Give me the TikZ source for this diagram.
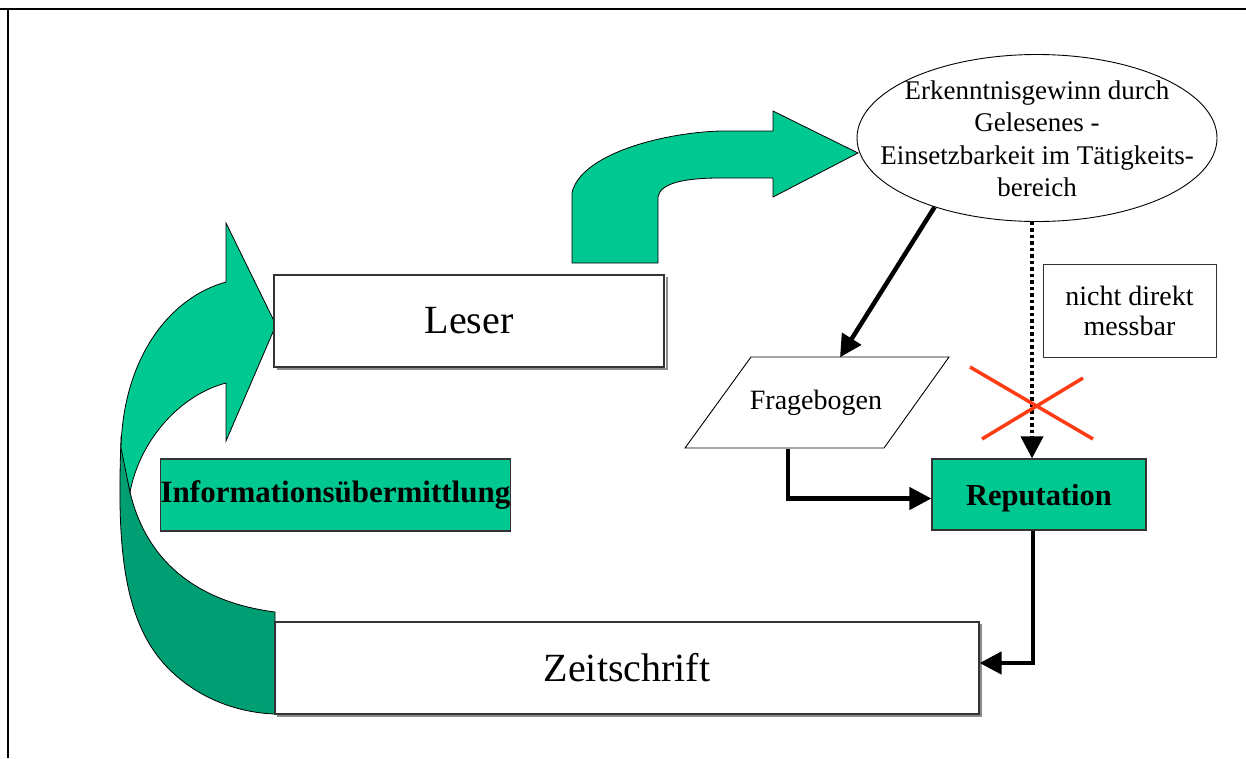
\documentclass[tikz,border=0pt]{standalone}
\usepackage{fontspec}
\setmainfont{Liberation Serif}
\usetikzlibrary{shapes.geometric,arrows.meta}
\definecolor{lgreen}{RGB}{0,200,145}
\definecolor{dgreen}{RGB}{0,158,115}
\definecolor{xred}{RGB}{255,60,20}
\begin{document}
\begin{tikzpicture}[x=1pt,y=-1pt,
  box/.style={draw=black!80,line width=1.2pt,fill=white,inner sep=0pt},
  gbox/.style={draw=black!80,line width=1.2pt,fill=lgreen,inner sep=0pt,font=\fontsize{31}{36}\selectfont\bfseries},
  bigtxt/.style={font=\fontsize{40}{48}\selectfont},
  smalltxt/.style={font=\fontsize{27}{32.5}\selectfont,align=center},
  conn/.style={line width=4.5pt,-{Triangle[length=22pt,width=22pt]}},
  dotconn/.style={line width=4pt,dash pattern=on 3.5pt off 3pt,-{Triangle[length=22pt,width=22pt]}},
  shape3d/.style={draw=black,line width=0.8pt},
  cross/.style={xred,line width=3.5pt}
]
\useasboundingbox (0,0) rectangle (1246,758);
% frame
\draw[line width=2.5pt] (0,9) -- (1246,9);
\draw[line width=1.5pt] (8,9) -- (8,758);

% left curved arrow (back face, then front face)
\filldraw[shape3d,fill=dgreen] (121,440) .. controls (117,545) and (122,625) .. (172,672)
  .. controls (205,703) and (245,713) .. (275,714) -- (275,612)
  .. controls (205,603) and (148,568) .. (130,492) -- cycle;
\filldraw[shape3d,fill=lgreen] (226,282) -- (226,223) -- (276,325) -- (226,441) -- (226,383)
  .. controls (180,395) and (140,440) .. (130,492) -- (121,448)
  .. controls (123,360) and (168,298) .. cycle;

% top bent arrow
\filldraw[shape3d,fill=lgreen] (572,263) -- (658,263) -- (658,197)
  .. controls (660,183) and (685,178) .. (720,178) -- (773,178) -- (773,197)
  -- (858,153) -- (773,111) -- (773,131) -- (720,131)
  .. controls (660,133) and (580,155) .. (572,193) -- cycle;

% shadows
\draw[black!45,line width=1.2pt] (277,369) -- (667,369) -- (667,277);
\draw[black!45,line width=1.2pt] (277,716) -- (981,716) -- (981,624);

% nodes
\node[box,bigtxt,minimum width=390pt,minimum height=92pt] (leser) at (469,321) {Leser};
\node[box,bigtxt,minimum width=704pt,minimum height=92pt] (zeit) at (627,668) {Zeitschrift};
\node[gbox,minimum width=349pt,minimum height=72pt] (info) at (335.5,495) {Informationsübermittlung};
\node[gbox,minimum width=214pt,minimum height=71pt,font=\fontsize{30.5}{36}\selectfont\bfseries,text depth=0pt] (rep) at (1039,494.5) {Reputation};
\node[draw=black,line width=0.9pt,ellipse,minimum width=360pt,minimum height=167pt,inner sep=0pt] (ell) at (1037,138) {};
\node[smalltxt,inner sep=0pt] (elltext) at ([yshift=-1pt]ell.center) 
  {Erkenntnisgewinn durch\\Gelesenes -\\Einsetzbarkeit im Tätigkeits-\\bereich};
\node[box,line width=1pt,minimum width=173pt,minimum height=93pt,font=\fontsize{28}{30}\selectfont,align=center] (nicht) at (1129.5,310.5)
  {nicht direkt\\messbar};
\filldraw[draw=black,line width=0.9pt,fill=white] (751,357) -- (949,357) -- (884,448) -- (685,448) -- cycle;
\node[font=\fontsize{28}{32}\selectfont,minimum width=133pt,minimum height=91pt,inner sep=0pt] (frage) at (816,403) {Fragebogen};

% connectors
\draw[conn] (ell.-146) -- ([xshift=24pt]frage.north);
\coordinate (dotend) at ([xshift=-7pt]rep.north);
\draw[dotconn] (ell.south -| dotend) -- (dotend);
\draw[conn] ([xshift=-28pt]frage.south) |- ([yshift=-4pt]rep.west);
\draw[conn] ([xshift=-6pt]rep.south) |- ([yshift=5pt]zeit.east);

% red cross
\draw[cross] (970,367) -- (1093,439);
\draw[cross] (982,439) -- (1083,378);
\end{tikzpicture}
\end{document}
